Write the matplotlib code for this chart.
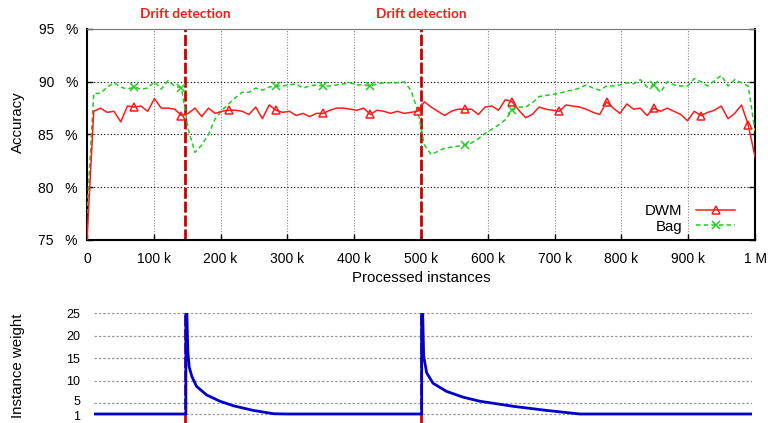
import numpy as np
import matplotlib
matplotlib.use("Agg")
import matplotlib.pyplot as plt
from matplotlib.transforms import offset_copy

plt.rcParams['font.family'] = ['Liberation Sans', 'DejaVu Sans']
plt.rcParams['font.size'] = 10.8

# accuracy (%) sampled every 1/99 of the stream (thousands of instances)
n_points = 100
x_acc = np.linspace(0, 1000, n_points)
dwm = [75.0, 87.2, 87.5, 87.1, 87.2, 86.2, 87.7, 87.6, 87.7, 87.2,
       88.4, 87.5, 87.5, 87.4, 86.8, 87.0, 87.5, 86.7, 87.5, 87.0,
       87.2, 87.3, 87.3, 87.2, 86.9, 87.6, 86.5, 87.8, 87.3, 87.1,
       87.2, 86.8, 87.0, 86.7, 87.0, 87.0, 87.3, 87.5, 87.5, 87.4,
       87.3, 87.5, 86.9, 87.3, 87.2, 87.0, 87.2, 87.0, 87.1, 87.2,
       88.1, 87.6, 87.2, 86.8, 87.2, 87.4, 87.4, 87.4, 86.9, 87.6,
       87.7, 87.3, 88.3, 88.1, 87.3, 86.6, 86.9, 87.6, 87.4, 87.3,
       87.2, 87.8, 87.7, 87.6, 87.4, 87.1, 86.9, 88.1, 87.5, 87.0,
       87.9, 87.4, 87.5, 86.8, 87.5, 87.2, 87.5, 87.2, 86.9, 86.3,
       87.2, 86.8, 87.1, 87.3, 87.7, 86.5, 87.0, 87.8, 85.9, 82.9]
bag = [77.5, 88.9, 88.9, 89.5, 89.9, 89.5, 89.3, 89.5, 89.3, 89.4,
       90.0, 89.3, 90.1, 89.6, 89.4, 85.5, 83.3, 84.0, 85.0, 86.5,
       87.3, 87.9, 88.5, 89.0, 89.0, 89.4, 89.2, 89.5, 89.6, 89.6,
       89.7, 89.8, 89.4, 89.6, 89.7, 89.6, 89.6, 89.7, 89.8, 89.9,
       89.7, 89.7, 89.6, 89.8, 89.9, 89.9, 89.9, 90.0, 89.2, 87.3,
       84.0, 83.1, 83.4, 83.7, 83.8, 83.9, 84.0, 84.2, 84.6, 85.1,
       85.5, 85.9, 86.4, 87.3, 87.6, 87.6, 88.0, 88.6, 88.7, 88.8,
       88.9, 89.1, 89.2, 89.4, 89.7, 89.4, 89.2, 89.6, 89.6, 89.7,
       89.9, 89.8, 90.2, 89.5, 89.7, 89.0, 90.0, 89.7, 89.6, 89.6,
       90.3, 90.0, 89.6, 90.1, 90.6, 89.6, 90.2, 89.9, 89.6, 85.3]
bag_marks = [7, 14, 28, 35, 42, 56, 63, 84]

drifts = [147, 500]

# instance weight curve (thousands of instances, weight)
w_x = [10.5, 148, 148, 149.5, 151, 153, 157, 164, 179, 199, 219, 249, 279, 299,
       501, 501, 502.5, 504, 508.5, 518, 538, 563, 588, 638, 688, 738, 995.5]
w_y = [1, 1, 25, 25, 16.5, 13.0, 10.9, 8.7, 6.8, 5.4, 4.0, 2.3, 1.1, 1,
       1, 25, 25, 15.4, 11.7, 9.4, 7.6, 6.3, 5.4, 3.8, 2.3, 1, 1]

xticks = [0, 100, 200, 300, 400, 500, 600, 700, 800, 900, 1000]
xticklabels = ['0', '100 k', '200 k', '300 k', '400 k', '500 k', '600 k',
               '700 k', '800 k', '900 k', '1 M']
yticks = [75, 80, 85, 90, 95]
wticks = [1, 5, 10, 15, 20, 25]

W, H = 768, 423
fig = plt.figure(figsize=(W / 100, H / 100), dpi=100)

# ---- accuracy panel
ax = fig.add_axes([87 / W, 1 - 240 / H, 668 / W, 211 / H])
ax.set_xlim(0, 1000)
ax.set_ylim(75, 95)
for v in xticks[1:-1]:
    ax.axvline(v, color='#888888', lw=0.8, ls=(0, (1, 1.5)), zorder=1)
for v in [80, 85, 90]:
    ax.axhline(v, color='black', lw=0.8, ls=(0, (1, 2)), zorder=1)
for d in drifts:
    ax.axvline(d, color='#cc0000', lw=2, ls=(0, (4, 1)), zorder=2)

ax.plot(x_acc, dwm, color='#ff1a1a', lw=1.1, marker='^', markersize=5.5,
        markerfacecolor='none', markeredgewidth=1.1, markevery=(7, 7),
        label='DWM', zorder=4)
ax.plot(x_acc, bag, color='#22cc22', lw=1.1, ls=(0, (3, 2)), marker='x',
        markersize=5.5, markeredgewidth=1.1, markevery=bag_marks,
        label='Bag', zorder=3)

ax.set_xticks(xticks)
ax.set_xticklabels(xticklabels)
ax.set_yticks(yticks)
ax.set_yticklabels(['%d   %%' % v for v in yticks])
ax.tick_params(direction='in', length=4, width=1, top=False, right=True,
               labelsize=10)
ax.tick_params(axis='x', pad=8.5)
ax.tick_params(axis='y', pad=6.5)
for s in ['left', 'bottom', 'right']:
    ax.spines[s].set_linewidth(1.5)
ax.spines['top'].set_color('#777777')
ax.spines['top'].set_linewidth(0.8)
ax.set_xlabel('Processed instances', labelpad=4)
ax.set_ylabel('Accuracy')
ax.yaxis.set_label_coords((25 - 87) / 668, 0.56)
ax.legend(loc='center', bbox_to_anchor=(0.903, 0.1), frameon=False,
          markerfirst=False, handlelength=2.6, handletextpad=0.9,
          labelspacing=0.1, numpoints=1)

for d in drifts:
    ax.text(d, 95 + 1.45, 'Drift detection', color='#ff1a1a',
            fontweight='bold', ha='center', va='center', fontsize=9.8,
            family=['Lato', 'DejaVu Sans'])

# ---- instance weight panel (compressed below 5)
def fwd(y):
    y = np.asarray(y, dtype=float)
    return np.where(y < 5, 5 - (5 - y) * 0.61, y)


def inv(u):
    u = np.asarray(u, dtype=float)
    return np.where(u < 5, 5 - (5 - u) / 0.61, u)


x0 = (94 - 87) / 668 * 1000
x1 = (752 - 87) / 668 * 1000
bx = fig.add_axes([94 / W, 0, 658 / W, 110 / H])
bx.set_yscale('function', functions=(fwd, inv))
bx.set_xlim(x0, x1)
bx.set_ylim(-2.28, 25)
for s in bx.spines.values():
    s.set_visible(False)
bx.set_xticks([])
bx.set_yticks(wticks)
bx.set_yticklabels([str(v) for v in wticks])
bx.tick_params(axis='y', length=0, pad=10, labelsize=9)
# the two lowest labels sit close together; nudge them apart slightly
for lab, dy in zip(bx.get_yticklabels()[:2], [-0.9, 2.0]):
    lab.set_transform(offset_copy(lab.get_transform(), fig=fig, x=0, y=dy,
                                  units='points'))
for v in wticks:
    bx.axhline(v, color='#999999', lw=0.9, ls=(0, (2, 1.5)), zorder=1)
for d in drifts:
    bx.axvline(d, color='#dd0000', lw=2, ls=(0, (4, 1)), zorder=2)
bx.plot(w_x, w_y, color='#0000cc', lw=2, zorder=3)
bx.set_ylabel('Instance weight')
bx.yaxis.set_label_coords((25 - 94) / 658, 0.52)

fig.savefig('out.png', dpi=100)
